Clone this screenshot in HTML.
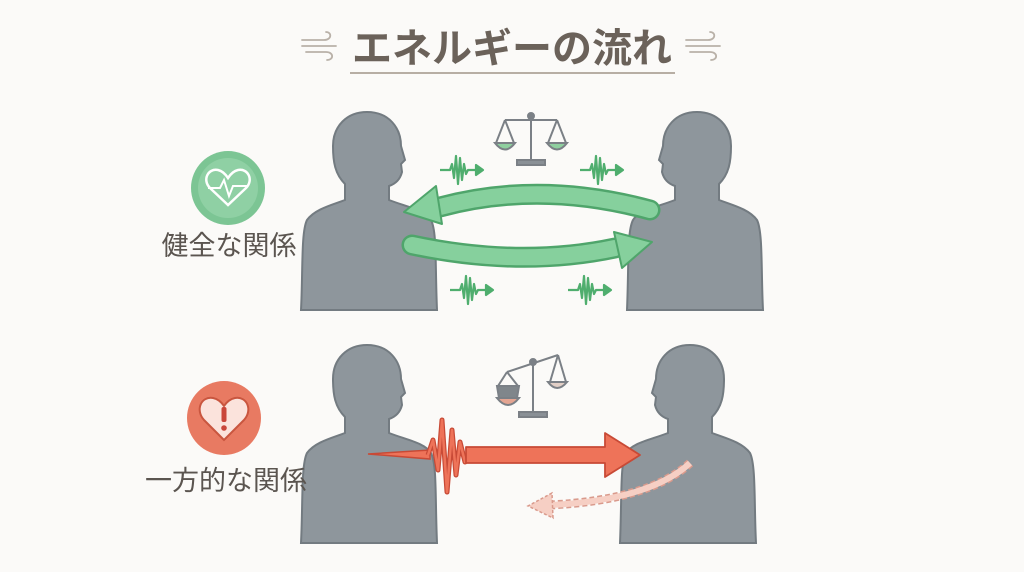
<!DOCTYPE html>
<html><head><meta charset="utf-8"><style>
html,body{margin:0;padding:0;background:#fbfaf8;}
svg{display:block;}
text{font-family:"Liberation Sans","Noto Sans CJK JP",sans-serif;}
</style></head><body>
<svg width="1024" height="572" viewBox="0 0 1024 572" xmlns="http://www.w3.org/2000/svg">
<defs>
<path id="p" d="M0,0 C22,0 34,16 34,34 L38,48 L34,52 L35,60 C33,68 28,72 22,74 L22,88 C40,95 58,98 64,108 C70,120 68,150 70,198 L-66,198 C-64,160 -66,120 -60,108 C-52,97 -35,93 -22,88 L-22,72 C-32,62 -34,50 -34,34 C-34,14 -20,0 0,0 Z" fill="#8e969c" stroke="#737b81" stroke-width="2"/>
<g id="w" fill="none" stroke="#4fae6e" stroke-width="2.2" stroke-linejoin="round">
<path d="M0,0 L10,0 L12,-6 L14,8 L16,-14 L18,14 L20,-12 L22,10 L24,-6 L26,4 L28,0 L40,0"/>
<path d="M36,-5 L43,0 L36,5 Z" fill="#4fae6e"/>
</g>
<g id="wind" fill="none" stroke="#b9b1a8" stroke-width="1.8" stroke-linecap="round">
<path d="M0,-6 L22,-6 C30,-6 30,-14 24,-14"/>
<path d="M0,0 L34,0"/>
<path d="M4,6 L24,6 C32,6 32,14 25,14"/>
</g>
</defs>

<!-- title -->
<use href="#wind" x="302" y="46"/>
<use href="#wind" x="686" y="46"/>
<text x="512" y="62" text-anchor="middle" font-size="40" fill="#6b625a" font-weight="bold">エネルギーの流れ</text>
<line x1="350" y1="73" x2="675" y2="73" stroke="#b7aea4" stroke-width="2"/>

<!-- top row people -->
<use href="#p" transform="translate(367,112)"/>
<use href="#p" transform="translate(697,112) scale(-1,1)"/>

<!-- scale top -->
<g stroke="#7b8086" stroke-width="2" fill="none">
<line x1="531" y1="116" x2="531" y2="160"/>
<line x1="505" y1="120" x2="557" y2="120"/>
<path d="M505,120 L496,143 M505,120 L514,143 M557,120 L548,143 M557,120 L566,143"/>
<path d="M495,143 Q505,156 515,143 Z" fill="#8fcf9f"/>
<path d="M547,143 Q557,156 567,143 Z" fill="#8fcf9f"/>
<circle cx="531" cy="116" r="3" fill="#7b8086"/>
<rect x="517" y="160" width="28" height="5" fill="#8a9096"/>
</g>

<!-- waves -->
<use href="#w" x="440" y="170"/>
<use href="#w" x="580" y="170"/>
<use href="#w" x="450" y="290"/>
<use href="#w" x="568" y="290"/>

<!-- green arrows -->
<path d="M650,210 Q540,180 440,207" fill="none" stroke="#4fa56b" stroke-width="21" stroke-linecap="round"/>
<path d="M650,210 Q540,180 440,207" fill="none" stroke="#86d09d" stroke-width="16" stroke-linecap="round"/>
<polygon points="436,186 404,212 442,224" fill="#86d09d" stroke="#4fa56b" stroke-width="2" stroke-linejoin="round"/>
<path d="M412,245 Q520,268 615,248" fill="none" stroke="#4fa56b" stroke-width="21" stroke-linecap="round"/>
<path d="M412,245 Q520,268 615,248" fill="none" stroke="#86d09d" stroke-width="16" stroke-linecap="round"/>
<polygon points="614,232 652,242 622,268" fill="#86d09d" stroke="#4fa56b" stroke-width="2" stroke-linejoin="round"/>

<!-- green label -->
<circle cx="228" cy="188" r="37" fill="#7cc594"/>
<circle cx="228" cy="188" r="30" fill="#8fd0a4"/>
<path d="M228,205 L210,188 C202,180 208,168 218,170 C223,171 226,175 228,178 C230,175 233,171 238,170 C248,168 254,180 246,188 Z" fill="none" stroke="#fff" stroke-width="2.5"/>
<path d="M208,188 L220,188 L224,180 L229,196 L233,186 L248,186" fill="none" stroke="#fff" stroke-width="2"/>
<text x="229" y="255" text-anchor="middle" font-size="27" fill="#5b5550">健全な関係</text>

<!-- bottom row people -->
<use href="#p" transform="translate(367,345)"/>
<use href="#p" transform="translate(690,345) scale(-1,1)"/>

<!-- scale bottom (tilted) -->
<g stroke="#7b8086" stroke-width="2" fill="none">
<line x1="533" y1="362" x2="533" y2="412"/>
<line x1="507" y1="372" x2="558" y2="355"/>
<path d="M507,372 L498,386 M507,372 L518,386 M558,355 L550,382 M558,355 L566,382"/>
<path d="M497,386 L519,386 L517,398 L499,398 Z" fill="#80868b"/>
<path d="M497,398 Q508,412 519,398 Z" fill="#e4a592"/>
<path d="M548,382 Q557,394 567,382 Z" fill="#e2cfc6"/>
<circle cx="533" cy="362" r="3" fill="#7b8086"/>
<rect x="519" y="412" width="28" height="5" fill="#8a9096"/>
</g>

<!-- red arrow -->
<polygon points="368,454 430,450 430,459" fill="#ee7359" stroke="#c84a36" stroke-width="1.5"/>
<path d="M428,455 L433,440 L438,470 L442,420 L447,492 L452,430 L456,475 L460,442 L465,462 L470,455" fill="none" stroke="#c84a36" stroke-width="5" stroke-linejoin="round"/>
<path d="M428,455 L433,440 L438,470 L442,420 L447,492 L452,430 L456,475 L460,442 L465,462 L470,455" fill="none" stroke="#ee7359" stroke-width="2.5" stroke-linejoin="round"/>
<polygon points="466,447 605,447 605,433 640,455 605,477 605,463 466,463" fill="#ee7359" stroke="#c84a36" stroke-width="1.8" stroke-linejoin="round"/>

<!-- dashed pink arrow -->
<path d="M690,463 Q650,500 550,505" fill="none" stroke="#d99a8c" stroke-width="9" stroke-dasharray="5,3"/>
<path d="M690,463 Q650,500 550,505" fill="none" stroke="#f6cfc4" stroke-width="6"/>
<polygon points="552,493 528,506 553,518" fill="#f6cfc4" stroke="#d99a8c" stroke-width="1.5" stroke-dasharray="3,2"/>

<!-- red label -->
<circle cx="224" cy="418" r="37" fill="#e87a62"/>
<path d="M224,440 L204,420 C195,410 201,396 213,398 C218,399 222,403 224,406 C226,403 230,399 235,398 C247,396 253,410 244,420 Z" fill="#fbe3dc" stroke="#c9563f" stroke-width="2"/>
<rect x="221.5" y="407" width="5" height="15" rx="2" fill="#c9463a"/>
<circle cx="224" cy="428" r="2.8" fill="#c9463a"/>
<text x="226" y="490" text-anchor="middle" font-size="27" fill="#5b5550">一方的な関係</text>
</svg>
</body></html>
